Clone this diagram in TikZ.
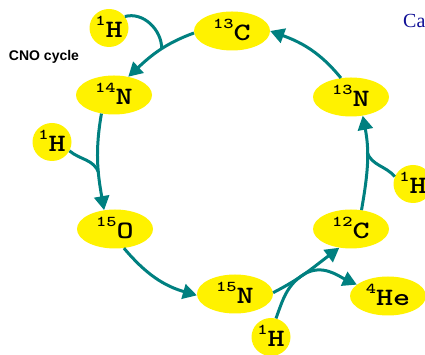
\documentclass[tikz,border=0pt]{standalone}
\usepackage{fontspec}
\usetikzlibrary{shapes.geometric,arrows.meta}
\newfontfamily\isofont[FakeStretch=1.3]{lmmonolt10-bold.otf}
\newfontfamily\labelfont{Liberation Sans}
\newfontfamily\titlefont{Liberation Serif}
\definecolor{cnoteal}{RGB}{0,128,128}
\definecolor{cnonavy}{RGB}{16,16,150}
% isotope label: raised mass number followed by the element symbol
\newcommand\nuc[2]{{\fontsize{15}{15}\selectfont\raisebox{12pt}{#1}}#2}
\tikzset{
  iso/.style={ellipse, fill=yellow, inner sep=0pt, text height=20pt, text depth=0pt,
    font=\fontsize{25}{25}\isofont},
  big/.style={iso, minimum width=76pt, minimum height=39pt},
  proton/.style={iso, minimum width=39pt, minimum height=38pt},
  flow/.style={draw=cnoteal, line width=3pt, -{Triangle[length=14pt,width=15pt]}},
  feed/.style={draw=cnoteal, line width=3pt}
}
\begin{document}
\begin{tikzpicture}[x=1pt,y=1pt]
  \useasboundingbox (0,0) rectangle (425,355);
  \clip (0,0) rectangle (425,355);

  % nuclei of the cycle
  \node[big] (c13) at (232,324) {\nuc{13}{C}};
  \node[big] (n14) at (114,260) {\nuc{14}{N}};
  \node[big] (o15) at (115,126) {\nuc{15}{O}};
  \node[big] (n15) at (235,61)  {\nuc{15}{N}};
  \node[big] (c12) at (351,126) {\nuc{12}{C}};
  \node[big] (n13) at (351,258) {\nuc{13}{N}};
  \node[big] (he4) at (388,59)  {\nuc{4}{He}};

  % incoming protons
  \node[proton] (h1a) at (109,327) {\nuc{1}{H}};
  \node[proton] (h1b) at (52,213)  {\nuc{1}{H}};
  \node[proton] (h1c) at (271,18)  {\nuc{1}{H}};
  \node[proton] (h1d) at (413,171) {\nuc{1}{H}};

  % captions
  \node[font=\fontsize{14}{14}\labelfont\bfseries] (title) at (44,298) {CNO cycle};
  \node[font=\fontsize{20}{20}\titlefont, text=cnonavy, anchor=base west, inner sep=0pt]
    (head) at (403,327) {Ca};

  % cycle arrows
  \draw[flow] (c13.183) to[out=200,in=43] coordinate[pos=0.45] (m1) (n14.52);
  \draw[flow] (n14.236) to[out=260,in=100] coordinate[pos=0.62] (m2) (o15.120);
  \draw[flow] (o15.295) to[out=-50,in=164] (n15.182);
  \draw[flow] (n15.2) to[out=27,in=217] coordinate[pos=0.45] (m4) (c12.238);
  \draw[flow] (c12.61) to[out=80,in=281] coordinate[pos=0.62] (m5) (n13.302);
  \draw[flow] (n13.118) to[out=129,in=340] (c13.east);

  % protons joining the cycle
  \draw[feed] (h1a.36) to[out=15,in=90] (m1);
  \draw[feed] (h1b.333) to[out=-40,in=110] (m2);
  \draw[feed] (h1d.158) to[out=130,in=290] (m5);
  \draw[feed] (h1c.75) to[out=70,in=212] (m4);
  \draw[flow] (m4) to[out=30,in=155] (he4.160);
\end{tikzpicture}
\end{document}
